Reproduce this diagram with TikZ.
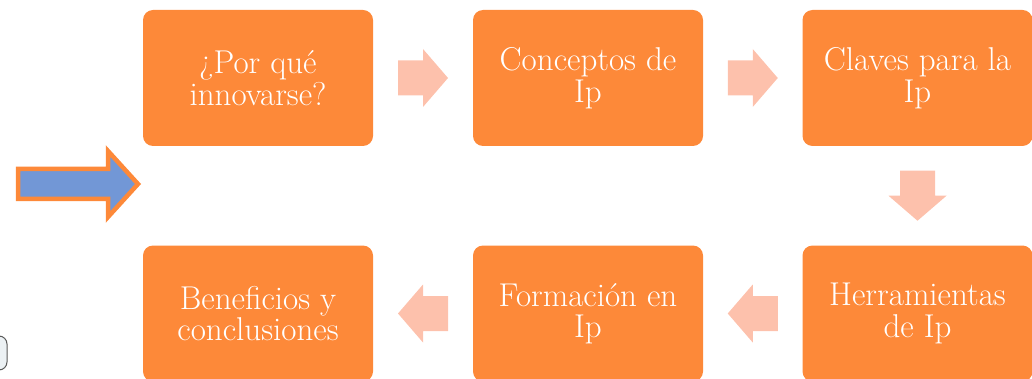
\documentclass[tikz,border=0pt]{standalone}
\usepackage{fontspec}
\usetikzlibrary{calc}
\definecolor{boxorange}{RGB}{253,137,57}
\definecolor{paleorange}{RGB}{253,193,172}
\definecolor{arrowblue}{RGB}{114,151,214}
\definecolor{grayline}{RGB}{90,90,90}
\definecolor{grayfill}{RGB}{236,241,244}
\tikzset{
  stepbox/.style={rectangle, rounded corners=10pt, fill=boxorange, draw=none,
    minimum width=230pt, minimum height=136pt, inner sep=0pt,
    text=white, align=center, font=\fontsize{33}{31.5}\selectfont},
  pics/blockarrow/.style={code={
    \fill[paleorange] (-25,-17.5) -- (0,-17.5) -- (0,-29) -- (25,0) -- (0,29) -- (0,17.5) -- (-25,17.5) -- cycle;
  }}
}
\begin{document}
\begin{tikzpicture}[x=1pt,y=-1pt]
\useasboundingbox (0,0) rectangle (1032,379);
\clip (0,0) rectangle (1032,379);
% boxes
\node[stepbox] (b1) at (258,78) {¿Por qué\\innovarse?};
\node[stepbox] (b2) at (588,78) {Conceptos de\\Ip};
\node[stepbox] (b3) at (917.5,78) {Claves para la\\Ip};
\node[stepbox] (b4) at (917.5,313.5) {Herramientas\\de Ip};
\node[stepbox] (b5) at (588,313.5) {Formación en\\Ip};
\node[stepbox] (b6) at (258,313.5) {Beneficios y\\conclusiones};
% block arrows between boxes
\path ($(b1.east)!0.5!(b2.west)$) pic {blockarrow};
\path ($(b2.east)!0.5!(b3.west)$) pic {blockarrow};
\path ($(b3.south)!0.5!(b4.north)$) pic[rotate=-90] {blockarrow};
\path ($(b4.west)!0.5!(b5.east)$) pic[rotate=180] {blockarrow};
\path ($(b5.west)!0.5!(b6.east)$) pic[rotate=180] {blockarrow};
% blue arrow at left
\draw[boxorange, line width=4.5pt, fill=arrowblue, miter limit=10]
  (18,169) -- (108,169) -- (108,151) -- (138,184) -- (108,217) -- (108,199) -- (18,199) -- cycle;
% small shape at bottom-left edge
\draw[grayline, fill=grayfill, line width=1pt, rounded corners=8pt]
  (-20,336) rectangle (7,370);
\end{tikzpicture}
\end{document}
